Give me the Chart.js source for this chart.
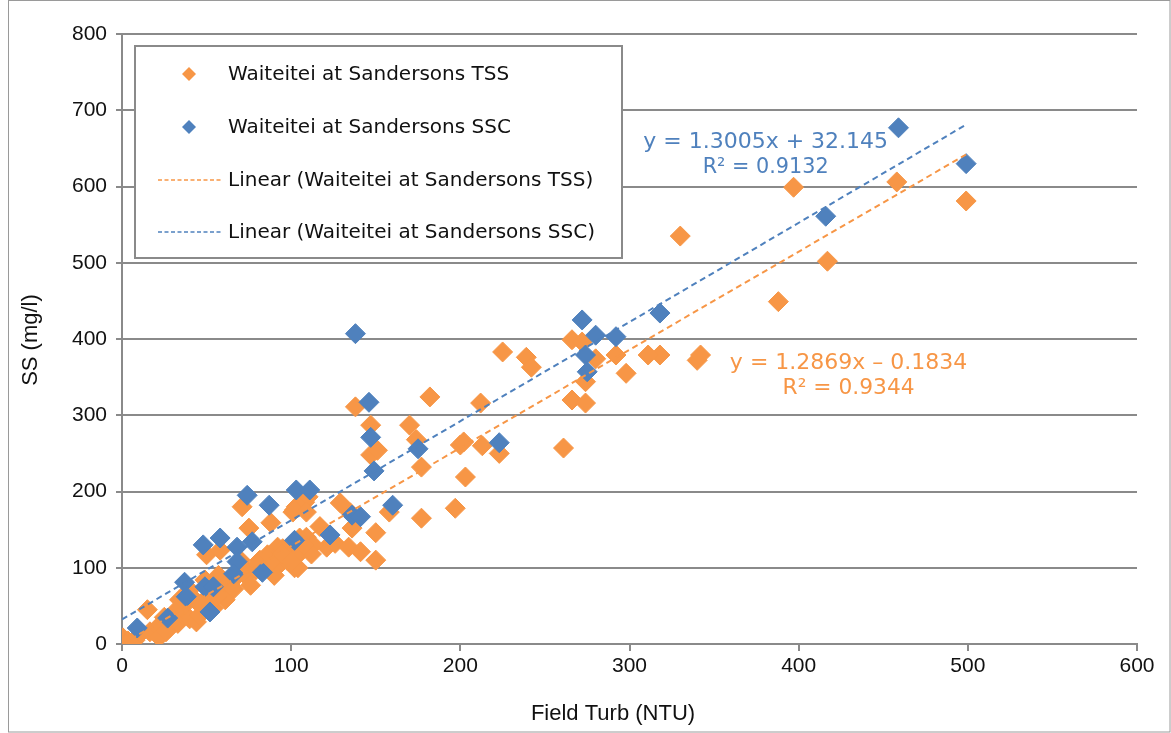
<!DOCTYPE html>
<html><head><meta charset="utf-8">
<script src="https://cdn.jsdelivr.net/npm/chart.js@4.4.1/dist/chart.umd.min.js"></script>
<style>html,body{margin:0;padding:0;background:#fff;}#wrap{width:1171px;height:733px;}</style>
</head><body><div id="wrap"><canvas id="c" width="1171" height="733"></canvas></div>
<script>
// ---- data ----
const tssTurb = [499,458,397,417,388,330,340,342,318,311,298,292,280,274,266,274,266,272,261,239,242,225,212,182,200,202,213,223,203,197,177,174,170,138,147,147,151,129,158,177,135,136,150,117,109,121,126,134,141,150,102,103,108,101,110,71,88,75,102,109,50,58,92,86,15,
  0.6,3.5,7.7,10.6,16.5,21,28,33,36,40,44,46,37,43,49,52,58,61,64,67,73,76,79,84.5,90,93,97.5,99,104,105,70,81.5,57,49,40,34,31,25,54,22,26,5,2,105,95,88,113,
  62,72,86,95,66,56,46,30,80,100,112,108];
const tssSS = [581,606,599,502,449,535,372,379,379,379,355,379,374,344,320,316,399,396,257,376,363,383,316,324,261,265,260,250,219,178,232,268,287,311,287,248,254,185,173,165,172,152,146,154,140,127,132,127,121,110,100,180,186,173,193,180,159,152,176,173,117,123,127,117,45,
  8,4,5,13,16,22,21,27,38,33,29,38,51,58,58,64,71,58,77,87,90,77,97,100,90,104,110,117,100,119,110,110,90,84,71,58,42,35,47,9,16,1,0,139,125,108,130,
  80,100,112,118,72,62,52,32,105,108,118,130];
const sscTurb = [9,27,37,38,48,58,49,54,52,68,68,66,77,83,74,87,102,103,111,123,136,141,160,138,146,147,149,175,223,272,280,292,318,274,275,416,459,499];
const sscSS = [21,34,81,62,130,139,75,75,42,127,108,92,134,94,195,182,136,202,202,143,169,167,182,407,317,271,227,256,264,425,405,403,434,379,357,561,677,630];
const xTickValues = [0,100,200,300,400,500,600];
const yTickValues = [0,100,200,300,400,500,600,700,800];
const seriesNames = ['Waiteitei at Sandersons TSS','Waiteitei at Sandersons SSC','Linear (Waiteitei at Sandersons TSS)','Linear (Waiteitei at Sandersons SSC)'];
const tssFit = {slope:1.2869, intercept:-0.1834, r2:'0.9344', eq:'y = 1.2869x \u2013 0.1834'};
const sscFit = {slope:1.3005, intercept:32.145, r2:'0.9132', eq:'y = 1.3005x + 32.145'};
const axisTitles = {x:'Field Turb (NTU)', y:'SS (mg/l)'};

const ORANGE = '#F79646', BLUE = '#4F81BD', GRID = '#8a8a8a';
const AXIS_FONT = '"Liberation Sans", Arial, sans-serif';
const toPts = (xs, ys) => xs.map((x, i) => ({x, y: ys[i]}));
const fitLine = (fit, x0, x1) => [{x:x0, y:fit.intercept + fit.slope*x0},{x:x1, y:fit.intercept + fit.slope*x1}];
const xMax = Math.max(...tssTurb, ...sscTurb);

const overlay = {
  id:'overlay',
  afterDraw(chart){
    const ctx = chart.ctx, xs = chart.scales.x, ys = chart.scales.y;
    ctx.save();
    // frame
    ctx.strokeStyle = '#9a9a9a'; ctx.lineWidth = 1;
    ctx.strokeRect(8.5, 0.5, 1161.5, 731.5);
    // axis titles
    ctx.fillStyle = '#111';
    ctx.font = '22px ' + AXIS_FONT;
    ctx.textAlign = 'center'; ctx.textBaseline = 'middle';
    ctx.fillText(axisTitles.x, 613, 714);
    ctx.save(); ctx.translate(31, 340); ctx.rotate(-Math.PI/2);
    ctx.fillText(axisTitles.y, 0, 0); ctx.restore();
    // legend box
    ctx.fillStyle = '#fff'; ctx.fillRect(135, 46, 487, 212);
    ctx.strokeStyle = GRID; ctx.lineWidth = 2; ctx.strokeRect(135, 46, 487, 212);
    const rows = [74, 127, 180, 232];
    const colors = [ORANGE, BLUE, ORANGE, BLUE];
    const widths = [286, 288, 374, 374];
    ctx.font = '20px "DejaVu Sans", sans-serif';
    ctx.textAlign = 'left'; ctx.textBaseline = 'middle';
    rows.forEach((y, i) => {
      if (i < 2) {
        ctx.fillStyle = colors[i];
        ctx.beginPath(); ctx.moveTo(189, y-7); ctx.lineTo(196, y); ctx.lineTo(189, y+7); ctx.lineTo(182, y); ctx.closePath(); ctx.fill();
      } else {
        ctx.strokeStyle = colors[i]; ctx.lineWidth = 1.5; ctx.setLineDash([4,2.5]);
        ctx.beginPath(); ctx.moveTo(158, y); ctx.lineTo(221, y); ctx.stroke(); ctx.setLineDash([]);
      }
      ctx.fillStyle = '#111';
      ctx.fillText(seriesNames[i], 228, y + 1, widths[i]);
    });
    // equations
    ctx.font = '22px "DejaVu Sans", sans-serif';
    ctx.textAlign = 'center';
    ctx.fillStyle = BLUE;
    ctx.fillText(sscFit.eq, xs.getPixelForValue(380.5), ys.getPixelForValue(658), 246);
    ctx.fillText('R\u00b2 = ' + sscFit.r2, xs.getPixelForValue(380.5), ys.getPixelForValue(625), 126);
    ctx.fillStyle = ORANGE;
    ctx.fillText(tssFit.eq, xs.getPixelForValue(429.5), ys.getPixelForValue(368.5), 238);
    ctx.fillText('R\u00b2 = ' + tssFit.r2, xs.getPixelForValue(429.5), ys.getPixelForValue(335.5), 132);
    ctx.restore();
  }
};

new Chart(document.getElementById('c'), {
  type:'scatter',
  data:{ datasets:[
    {label:seriesNames[0], data:toPts(tssTurb, tssSS), backgroundColor:ORANGE, borderColor:ORANGE, borderWidth:1, pointStyle:'rectRot', pointRadius:10, order:2},
    {label:seriesNames[1], data:toPts(sscTurb, sscSS), backgroundColor:BLUE, borderColor:BLUE, borderWidth:1, pointStyle:'rectRot', pointRadius:10, order:1},
    {label:seriesNames[2], data:fitLine(tssFit, 0, xMax), showLine:true, borderColor:ORANGE, borderWidth:2, borderDash:[6,4], pointRadius:0, order:0},
    {label:seriesNames[3], data:fitLine(sscFit, 0, xMax), showLine:true, borderColor:BLUE, borderWidth:2, borderDash:[6,4], pointRadius:0, order:0}
  ]},
  options:{
    responsive:false, animation:false, devicePixelRatio:1,
    layout:{padding:{left:0, right:34, top:34, bottom:0}},
    plugins:{legend:{display:false}, tooltip:{enabled:false}},
    scales:{
      x:{type:'linear', min:0, max:600,
        afterBuildTicks:s => { s.ticks = xTickValues.map(v => ({value:v})); },
        afterFit:s => { s.height = 89; },
        ticks:{color:'#111', padding:3, font:{family:AXIS_FONT, size:21}},
        grid:{drawOnChartArea:false, color:GRID, lineWidth:2, tickLength:7},
        border:{color:GRID, width:2}},
      y:{type:'linear', min:0, max:800,
        afterBuildTicks:s => { s.ticks = yTickValues.map(v => ({value:v})); },
        afterFit:s => { s.width = 122; },
        ticks:{color:'#111', padding:9, font:{family:AXIS_FONT, size:21}},
        grid:{color:GRID, lineWidth:2, tickLength:6},
        border:{color:GRID, width:2}}
    }
  },
  plugins:[overlay]
});
</script></body></html>
